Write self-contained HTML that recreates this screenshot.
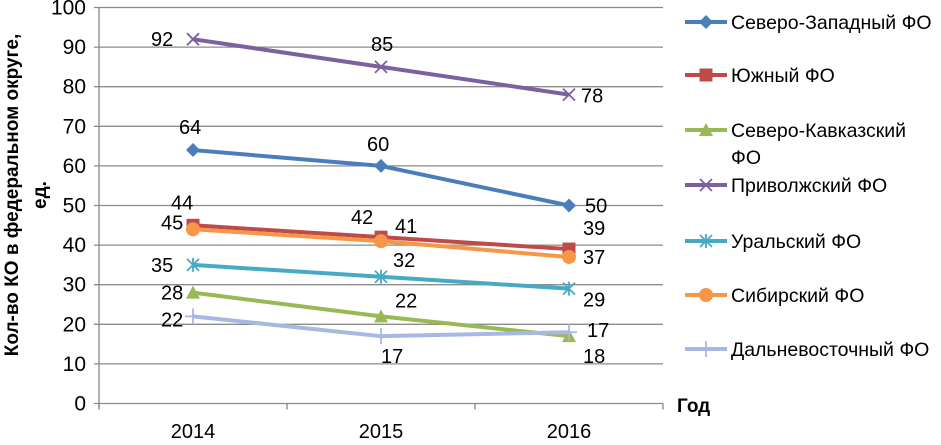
<!DOCTYPE html>
<html><head><meta charset="utf-8"><style>
body{margin:0;background:#fff;}
svg text{font-family:"Liberation Sans","DejaVu Sans",sans-serif;}
</style></head><body>
<svg id="chart" width="941" height="440" xmlns="http://www.w3.org/2000/svg">
<g id="grid"></g>
<g id="axes"></g>
<g id="series"></g>
<g id="legend"></g>
<text transform="translate(18,195) rotate(-90)" text-anchor="middle" font-size="19" font-weight="bold" fill="#000">Кол-во КО в федеральном округе,</text>
<text transform="translate(46,195) rotate(-90)" text-anchor="middle" font-size="19" font-weight="bold" fill="#000">ед.</text>
<text x="677" y="412" font-size="19" font-weight="bold" fill="#000">Год</text>
</svg>
<script>
const categories=["2014","2015","2016"];
const yTicks=[0,10,20,30,40,50,60,70,80,90,100];
const seriesNames=["Северо-Западный ФО","Южный ФО","Северо-Кавказский ФО","Приволжский ФО","Уральский ФО","Сибирский ФО","Дальневосточный ФО"];
const szValues=[64,60,50];
const yuValues=[45,42,39];
const skValues=[28,22,17];
const prValues=[92,85,78];
const urValues=[35,32,29];
const siValues=[44,41,37];
const dvValues=[22,17,18];
const szLabels=["64","60","50"];
const yuLabels=["45","42","39"];
const skLabels=["28","22","18"];
const prLabels=["92","85","78"];
const urLabels=["35","32","29"];
const siLabels=["44","41","37"];
const dvLabels=["22","17","17"];

const NS="http://www.w3.org/2000/svg";
const X0=99,X1=663,Y0=403.5,Y1=7.5;
const xs=i=>X0+(X1-X0)/categories.length*(i+0.5);
const ys=v=>Y0-(v/100)*(Y0-Y1);
function mk(tag,attrs,parent){const e=document.createElementNS(NS,tag);for(const k in attrs)e.setAttribute(k,attrs[k]);parent.appendChild(e);return e;}
const grid=document.getElementById('grid'),axes=document.getElementById('axes'),ser=document.getElementById('series'),leg=document.getElementById('legend');
yTicks.forEach(t=>{
  const l=mk('line',{x1:X0-5,x2:X1,y1:ys(t),y2:ys(t),stroke:'#8c8c8c','stroke-width':1.3},grid);
  
  
  const tx=mk('text',{x:86,y:ys(t)+7,'text-anchor':'end','font-size':21,fill:'#000'},axes);
  tx.textContent=t;
  
  
});
mk('line',{x1:X0,x2:X0,y1:Y1,y2:Y0+5,stroke:'#888','stroke-width':1.3},axes);
for(let i=0;i<=categories.length;i++){mk('line',{x1:X0+(X1-X0)/3*i,x2:X0+(X1-X0)/3*i,y1:Y0,y2:Y0+6,stroke:'#888','stroke-width':1.3},axes);}
categories.forEach((c,i)=>{
  const tx=mk('text',{x:xs(i),y:438,'text-anchor':'middle','font-size':20,fill:'#000'},axes);
  tx.textContent=c;
  
  
});
const colors=["#4A7EBB","#BE4B48","#98B954","#7D60A0","#46AAC5","#F79646","#A7B9E3"];
const markers=["diamond","square","triangle","x","star","circle","plus"];
const vals=[szValues,yuValues,skValues,prValues,urValues,siValues,dvValues];
const labs=[szLabels,yuLabels,skLabels,prLabels,urLabels,siLabels,dvLabels];
const offs=[
 [[-14,-16],[-14,-15],[16,7]],
 [[-32,4],[-30,-13],[14,-14]],
 [[-32,7],[14,-9],[14,27]],
 [[-42,7],[-10,-16],[12,8]],
 [[-42,7],[12,-10],[14,18]],
 [[-22,-20],[14,-8],[14,7]],
 [[-32,10],[0,27],[18,5]]
];
function marker(g,type,x,y,c){
  if(type==='diamond')mk('path',{d:`M${x} ${y-7}L${x+7} ${y}L${x} ${y+7}L${x-7} ${y}Z`,fill:c},g);
  else if(type==='square')mk('rect',{x:x-6.5,y:y-6.5,width:13,height:13,fill:c},g);
  else if(type==='triangle')mk('path',{d:`M${x} ${y-7}L${x+7} ${y+6}L${x-7} ${y+6}Z`,fill:c},g);
  else if(type==='circle')mk('circle',{cx:x,cy:y,r:7,fill:c},g);
  else if(type==='x')mk('path',{d:`M${x-6} ${y-6}L${x+6} ${y+6}M${x+6} ${y-6}L${x-6} ${y+6}`,stroke:c,'stroke-width':1.8},g);
  else if(type==='star')mk('path',{d:`M${x-6} ${y-6}L${x+6} ${y+6}M${x+6} ${y-6}L${x-6} ${y+6}M${x} ${y-7}L${x} ${y+7}`,stroke:c,'stroke-width':1.8},g);
  else if(type==='plus')mk('path',{d:`M${x-8} ${y}L${x+8} ${y}M${x} ${y-8}L${x} ${y+8}`,stroke:c,'stroke-width':1.8},g);
}
vals.forEach((v,s)=>{
  const g=mk('g',{},ser);
  
  
  const p=mk('polyline',{points:v.map((d,i)=>xs(i)+','+ys(d)).join(' '),fill:'none',stroke:colors[s],'stroke-width':4,'stroke-linejoin':'round'},g);
  
  
  v.forEach((d,i)=>{
    marker(g,markers[s],xs(i),ys(d),colors[s]);
    const o=offs[s][i];
    const t=mk('text',{x:xs(i)+o[0],y:ys(d)+o[1],'font-size':20,fill:'#000'},ser);
    t.textContent=labs[s][i];
    
    
  });
});
const legY=[22,75,130,185,241,295,349];
seriesNames.forEach((n,s)=>{
  const g=mk('g',{},leg);
  
  
  const y=legY[s];
  mk('line',{x1:685,x2:727,y1:y,y2:y,stroke:colors[s],'stroke-width':4},g);
  marker(g,markers[s],706,y,colors[s]);
  if(s===2){
    const t=mk('text',{x:731,y:y+7,'font-size':19.5,fill:'#000'},g);t.textContent='Северо-Кавказский';
    const t2=mk('text',{x:731,y:y+34,'font-size':19.5,fill:'#000'},g);t2.textContent='ФО';
  } else {
    const t=mk('text',{x:731,y:y+7,'font-size':19.5,fill:'#000'},g);t.textContent=n;
  }
});
</script>
</body></html>
